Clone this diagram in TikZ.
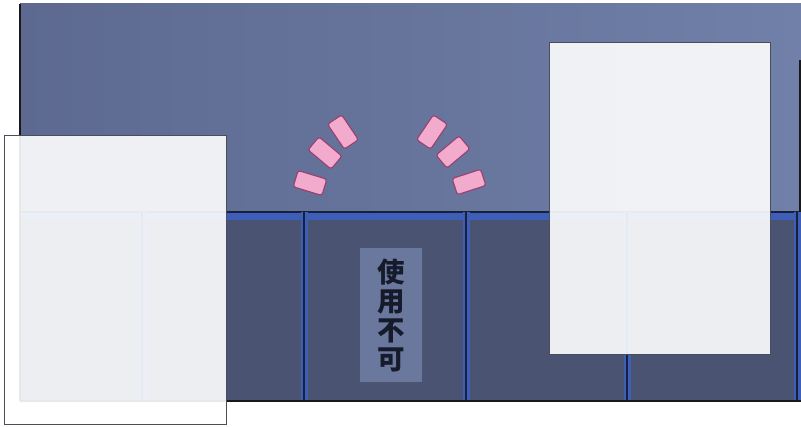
\documentclass[tikz,border=0pt]{standalone}
\usepackage{fontspec}
\newfontfamily\cjk{Noto Sans CJK JP}
\definecolor{upA}{HTML}{5D6990}
\definecolor{upB}{HTML}{7080A8}
\definecolor{lowC}{HTML}{4A5372}
\definecolor{bandC}{HTML}{3D5FB8}
\definecolor{edgeC}{HTML}{18203C}
\definecolor{pinkF}{HTML}{F2AACD}
\definecolor{pinkD}{HTML}{98406F}
\definecolor{lblF}{HTML}{6B789E}
\definecolor{lblT}{HTML}{161B2C}
\definecolor{panB}{HTML}{4A4E58}
\begin{document}
\begin{tikzpicture}[x=1pt,y=-1pt,
  pinkbox/.style={draw=pinkD,fill=pinkF,line width=1.1pt,rounded corners=2.5pt,
    minimum width=30pt,minimum height=17pt,inner sep=0pt},
  panel/.style={fill=white,fill opacity=0.9,draw=panB,line width=1pt},
  labelbox/.style={fill=lblF,text=lblT,minimum width=62pt,minimum height=134pt,
    inner sep=0pt,align=center,font=\cjk\bfseries\fontsize{27.5}{29}\selectfont},
  torn/.style={draw=black!90,line width=2.4pt}]
\useasboundingbox (0,0) rectangle (801,427);
\fill[white] (0,0) rectangle (801,427);
% upper wall
\shade[left color=upA,right color=upB] (20,4) rectangle (801,212);
% lower shelf
\fill[lowC] (20,212) rectangle (801,400);
\fill[bandC] (20,212) rectangle (801,220);
\draw[edgeC,line width=1.5pt] (20,212) -- (801,212);
\foreach \xx in {142,304,466,627,797}{
  \fill[bandC] (\xx-3.5,212) rectangle (\xx+3.5,400);
  \draw[edgeC,line width=2pt] (\xx,212) -- (\xx,400);
}
% torn edges
\draw[torn] (20,4) -- (20,401);
\draw[torn] (20,401) -- (801,401);
\draw[torn,line width=1.5pt] (800,60) -- (800,212);
% pink marks
\node[pinkbox,rotate=-17] (p1) at (310,183) {};
\node[pinkbox,rotate=-40] (p2) at (325,153) {};
\node[pinkbox,rotate=-56] (p3) at (343,132) {};
\node[pinkbox,rotate=56] (p4) at (432,132) {};
\node[pinkbox,rotate=40] (p5) at (453,152) {};
\node[pinkbox,rotate=18] (p6) at (469,182) {};
% label
\node[labelbox] (lbl) at (391,315) {使\\用\\不\\可};
% panels
\path[panel] (4,136) rectangle (226,425);
\path[panel] (549,43) rectangle (770,355);
\end{tikzpicture}
\end{document}
